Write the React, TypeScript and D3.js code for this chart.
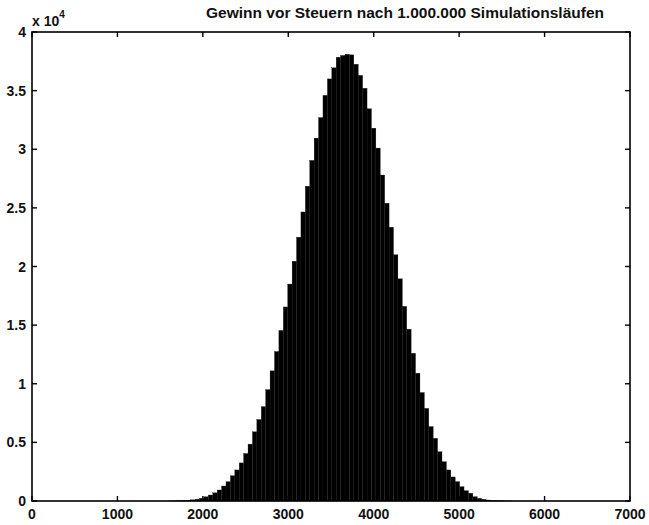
import { useEffect, useRef } from "react";
import * as d3 from "d3";

// histogram: first bin edge, bin width, counts per bin
const binStart = 1600;
const binWidth = 51.6;
const counts = [
  5, 12, 25, 45, 70, 100, 150, 230, 360, 510,
  700, 940, 1280, 1650, 2150, 2650, 3250, 4050, 4850, 5900,
  6950, 8050, 9500, 11100, 12750, 14550, 16550, 18500, 20450, 22500,
  24650, 26850, 29050, 30950, 32700, 34600, 36000, 36950, 37850, 38000,
  38100, 38050, 37250, 36300, 35200, 33450, 31800, 30100, 27800, 25400,
  23350, 21000, 18950, 16600, 14650, 12600, 10900, 9250, 7900, 6350,
  5350, 4200, 3350, 2650, 2050, 1650, 1220, 880, 660, 370,
  230, 145, 85, 50, 28, 15, 8, 4,
];

const xTicks = [0, 1000, 2000, 3000, 4000, 5000, 6000, 7000];
const yTicks = [0, 5000, 10000, 15000, 20000, 25000, 30000, 35000, 40000];
const yTickLabels = ["0", "0.5", "1", "1.5", "2", "2.5", "3", "3.5", "4"];
const title = "Gewinn vor Steuern nach 1.000.000 Simulationsläufen";

export default function App() {
  const ref = useRef<SVGSVGElement>(null);

  useEffect(() => {
    const width = 649;
    const height = 525;
    const left = 32, right = 630, top = 32, bottom = 501;
    const font = "'Liberation Sans', Arial, sans-serif";

    const svg = d3.select(ref.current);
    svg.selectAll("*").remove();

    svg.append("rect")
      .attr("width", width)
      .attr("height", height)
      .attr("fill", "#fff");

    const x = d3.scaleLinear().domain([0, 7000]).range([left, right]);
    const y = d3.scaleLinear().domain([0, 40000]).range([bottom, top]);

    // bars
    svg.append("g")
      .selectAll("rect")
      .data(counts)
      .enter()
      .append("rect")
      .attr("x", (_, i) => x(binStart + i * binWidth))
      .attr("width", x(binStart + binWidth) - x(binStart))
      .attr("y", d => y(d))
      .attr("height", d => y(0) - y(d))
      .attr("fill", "#000")
      .attr("stroke", "#151515")
      .attr("stroke-width", 0.3);

    // frame
    svg.append("rect")
      .attr("x", left)
      .attr("y", top)
      .attr("width", right - left)
      .attr("height", bottom - top)
      .attr("fill", "none")
      .attr("stroke", "#000")
      .attr("stroke-width", 1.6);

    const tickLen = 5;
    const ticks = svg.append("g").attr("stroke", "#000").attr("stroke-width", 1.4);
    xTicks.forEach(t => {
      ticks.append("line").attr("x1", x(t)).attr("x2", x(t)).attr("y1", bottom).attr("y2", bottom - tickLen);
      ticks.append("line").attr("x1", x(t)).attr("x2", x(t)).attr("y1", top).attr("y2", top + tickLen);
    });
    yTicks.forEach(t => {
      ticks.append("line").attr("x1", left).attr("x2", left + tickLen).attr("y1", y(t)).attr("y2", y(t));
      ticks.append("line").attr("x1", right).attr("x2", right - tickLen).attr("y1", y(t)).attr("y2", y(t));
    });

    // tick labels
    svg.append("g")
      .selectAll("text")
      .data(xTicks)
      .enter()
      .append("text")
      .attr("x", d => x(d))
      .attr("y", 519)
      .attr("text-anchor", "middle")
      .attr("font-family", font)
      .attr("font-size", 14)
      .attr("font-weight", "bold")
      .attr("fill", "#111")
      .text(d => String(d));

    svg.append("g")
      .selectAll("text")
      .data(yTicks)
      .enter()
      .append("text")
      .attr("x", 26)
      .attr("y", d => y(d) + 5)
      .attr("text-anchor", "end")
      .attr("font-family", font)
      .attr("font-size", 14)
      .attr("font-weight", "bold")
      .attr("fill", "#111")
      .text((_, i) => yTickLabels[i]);

    // exponent label
    const expo = svg.append("text")
      .attr("x", 32)
      .attr("y", 26)
      .attr("font-family", font)
      .attr("font-size", 14)
      .attr("font-weight", "bold")
      .attr("fill", "#111");
    expo.append("tspan").text("x 10");
    expo.append("tspan")
      .attr("dy", -8)
      .attr("font-size", 10)
      .text("4");

    // title
    svg.append("text")
      .attr("x", 405)
      .attr("y", 18)
      .attr("text-anchor", "middle")
      .attr("font-family", font)
      .attr("font-size", 15.5)
      .attr("font-weight", "bold")
      .attr("fill", "#111")
      .text(title);
  }, []);

  return (
    <svg
      ref={ref}
      width={649}
      height={525}
      style={{ position: "absolute", left: 0, top: 0, display: "block" }}
    />
  );
}
